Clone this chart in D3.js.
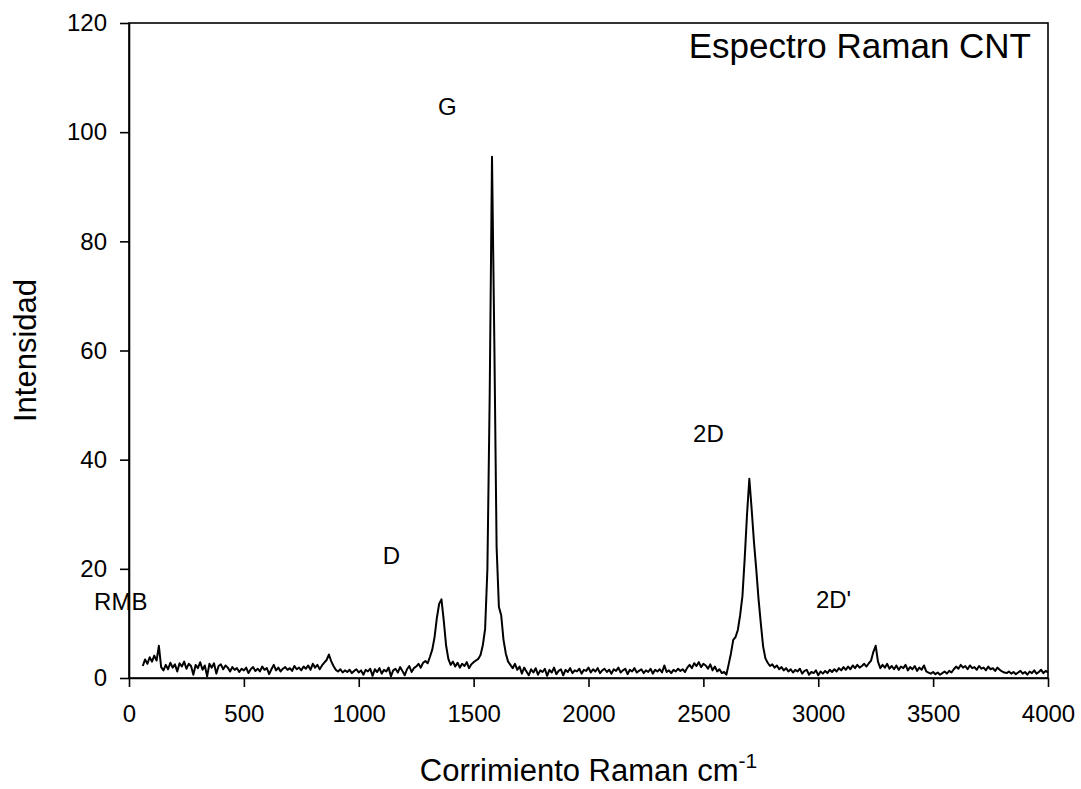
<!DOCTYPE html>
<html>
<head>
<meta charset="utf-8">
<script src="https://cdn.jsdelivr.net/npm/d3@7"></script>
<style>
  html, body { margin: 0; padding: 0; background: #fff; }
  svg { display: block; font-family: "Liberation Sans", Arial, Helvetica, sans-serif; }
</style>
</head>
<body>
<svg id="chart" width="1081" height="789"></svg>
<script>
// Raman spectrum of carbon nanotubes, sampled every 10 cm^-1 from 60 to 4000 cm^-1
const shiftStart = 60;
const shiftEnd = 4000;
const shiftStep = 10;
const intensity = [
  2.2, 3.4, 2.6, 3.8, 3.0, 4.1, 3.2, 5.9, 2.0, 1.4,        // 60
  2.4, 1.6, 2.8, 1.9, 2.5, 1.2, 2.7, 2.1, 3.0, 1.7,        // 160
  2.6, 2.2, 0.6, 2.4, 1.8, 2.9, 1.5, 2.3, 0.3, 2.6,        // 260
  1.9, 2.7, 0.8, 2.2, 2.5, 1.6, 2.3, 1.9, 1.2, 2.0,        // 360
  1.5, 1.8, 1.1, 1.7, 1.4, 1.9, 0.9, 1.6, 2.0, 1.3,        // 460
  1.7, 1.2, 2.1, 1.5, 1.8, 0.7, 1.6, 2.4, 1.4, 1.9,        // 560
  1.2, 1.7, 2.0, 1.5, 1.8, 1.3, 2.2, 1.6, 1.9, 1.4,        // 660
  2.1, 1.7, 2.3, 1.5, 2.6, 1.9, 2.4, 1.6, 2.3, 2.8,        // 760
  3.3, 4.3, 3.1, 2.2, 1.5, 1.2, 1.6, 1.0, 1.4, 1.1,        // 860
  1.5, 0.9, 1.3, 1.6, 1.0, 1.4, 0.6, 1.5, 1.2, 1.7,        // 960
  0.4, 1.6, 1.1, 1.8, 0.8, 1.5, 1.2, 1.9, 0.3, 1.4,        // 1060
  1.7, 1.0, 2.0, 1.3, 0.5, 1.6, 2.2, 1.1, 1.8, 2.1,        // 1160
  2.6, 1.9, 2.8, 3.1, 2.7, 3.9, 5.2, 7.5, 11.0, 13.6,      // 1260
  14.4, 10.5, 6.0, 3.5, 2.4, 3.0, 2.1, 2.8, 1.9, 2.6,      // 1360
  2.2, 2.9, 1.8, 2.5, 2.9, 3.2, 3.5, 4.2, 6.0, 9.0,        // 1460
  20.0, 52.0, 95.5, 62.0, 24.0, 13.0, 11.5, 7.0, 4.5, 3.0, // 1560
  2.4, 1.8, 2.6, 1.5, 2.1, 0.8, 1.9, 1.2, 0.5, 1.6,        // 1660
  1.0, 1.8, 0.6, 1.4, 1.1, 1.7, 0.4, 1.5, 1.0, 1.9,        // 1760
  0.7, 1.3, 1.6, 0.5, 1.5, 1.1, 1.8, 0.9, 1.4, 1.2,        // 1860
  1.7, 0.8, 1.5, 1.3, 1.9, 1.0, 1.6, 1.2, 1.8, 0.9,        // 1960
  1.4, 1.7, 1.1, 1.5, 0.8, 1.6, 1.3, 1.9, 1.0, 1.4,        // 2060
  1.7, 0.7, 1.5, 1.2, 1.8, 1.0, 1.3, 1.6, 0.9, 1.4,        // 2160
  1.1, 1.7, 0.8, 1.5, 1.2, 1.6, 1.0, 2.3, 1.1, 1.4,        // 2260
  0.9, 1.5, 1.2, 1.7, 1.3, 1.6, 1.1, 1.9, 2.4, 1.8,        // 2360
  2.7, 2.2, 2.9, 2.0, 2.6, 2.3, 1.7, 2.5, 1.4, 2.1,        // 2460
  1.2, 1.6, 0.9, 1.1, 0.6, 2.5, 4.5, 7.0, 7.5, 8.8,        // 2560
  11.5, 15.0, 22.0, 30.0, 36.5, 31.0, 25.0, 20.0, 14.5, 10.0, // 2660
  5.8, 3.6, 2.8, 2.2, 2.5, 1.9, 2.3, 1.6, 2.0, 1.4,        // 2760
  1.8, 1.2, 1.6, 1.0, 1.5, 1.2, 1.7, 0.8, 1.3, 1.5,        // 2860
  0.6, 1.1, 0.9, 1.4, 0.5, 1.2, 0.8, 1.3, 0.9, 1.5,        // 2960
  1.1, 1.6, 1.2, 1.8, 1.4, 2.0, 1.5, 2.1, 1.6, 2.3,        // 3060
  1.8, 2.4, 1.9, 2.2, 2.6, 2.1, 2.7, 3.2, 4.8, 5.9,        // 3160
  3.0, 1.8, 2.4, 1.9, 2.6, 1.7, 2.2, 1.6, 2.3, 1.5,        // 3260
  2.1, 1.8, 2.4, 1.4, 2.0, 1.6, 2.2, 1.3, 1.9, 1.5,        // 3360
  2.3, 1.2, 1.0, 0.8, 1.1, 0.7, 1.0, 0.6, 0.9, 1.2,        // 3460
  0.8, 1.3, 1.0, 1.6, 2.1, 1.7, 2.4, 1.9, 2.2, 1.6,        // 3560
  2.3, 1.8, 2.0, 1.5, 2.2, 1.7, 1.9, 1.4, 2.1, 1.6,        // 3660
  1.8, 1.3, 1.9, 1.5, 1.2, 1.0, 0.9, 1.2, 0.8, 1.1,        // 3760
  0.7, 1.0, 1.3, 0.8, 1.1, 0.6, 1.2, 0.9, 1.4, 0.8,        // 3860
  1.1, 1.5, 0.9, 1.3, 1.0                                  // 3960
];
const ramanShift = d3.range(shiftStart, shiftEnd + 1, shiftStep);

// Band labels (left edge in cm^-1, baseline in intensity units)
const bandNames = ["RMB", "D", "G", "2D", "2D'"];
const bandLabelX = [-152, 1105, 1345, 2455, 2990];
const bandLabelY = [12.4, 20.8, 103.2, 43.3, 12.9];

// Axis ticks
const xTicks = [0, 500, 1000, 1500, 2000, 2500, 3000, 3500, 4000];
const yTicks = [0, 20, 40, 60, 80, 100, 120];

const chartTitle = "Espectro Raman CNT";
const xTitle = "Corrimiento Raman cm";
const xTitleSup = "-1";
const yTitle = "Intensidad";

const svg = d3.select("#chart");
const W = 1081, H = 789;
const margin = { left: 129, top: 23, right: 1081 - 1048, bottom: 789 - 678 };
const plotW = W - margin.left - margin.right;
const plotH = H - margin.top - margin.bottom;

const x = d3.scaleLinear().domain([0, 4000]).range([0, plotW]);
const y = d3.scaleLinear().domain([0, 120]).range([plotH, 0]);

const g = svg.append("g").attr("transform", `translate(${margin.left},${margin.top})`);

// Spectrum trace
const points = ramanShift.map((s, i) => [s, intensity[i]]);
g.append("path")
  .datum(points)
  .attr("fill", "none")
  .attr("stroke", "#000")
  .attr("stroke-width", 2)
  .attr("stroke-linejoin", "round")
  .attr("d", d3.line().x(d => x(d[0])).y(d => y(d[1])));

// Frame
g.append("rect")
  .attr("x", 0).attr("y", 0)
  .attr("width", plotW).attr("height", plotH)
  .attr("fill", "none")
  .attr("stroke", "#000")
  .attr("stroke-width", 1.6);

// Axes
const xAxis = g.append("g")
  .attr("transform", `translate(0,${plotH})`)
  .call(d3.axisBottom(x).tickValues(xTicks).tickFormat(d3.format("d")).tickSize(9).tickPadding(18).tickSizeOuter(0));
const yAxis = g.append("g")
  .call(d3.axisLeft(y).tickValues(yTicks).tickFormat(d3.format("d")).tickSize(9).tickPadding(13).tickSizeOuter(0));

[xAxis, yAxis].forEach(a => {
  a.select(".domain").attr("stroke", "#000").attr("stroke-width", 1.6);
  a.selectAll(".tick line").attr("stroke", "#000").attr("stroke-width", 1.6);
  a.selectAll(".tick text")
    .attr("fill", "#000")
    .style("font-size", "24px")
    .style("font-family", "'Liberation Sans', Arial, sans-serif");
});

// Band labels
g.selectAll("text.band")
  .data(bandNames)
  .join("text")
  .attr("class", "band")
  .attr("x", (d, i) => x(bandLabelX[i]))
  .attr("y", (d, i) => y(bandLabelY[i]))
  .style("font-size", "24px")
  .attr("fill", "#000")
  .text(d => d);

// Title inside the frame, top right
g.append("text")
  .attr("x", plotW - 17)
  .attr("y", 35)
  .attr("text-anchor", "end")
  .style("font-size", "35px")
  .attr("fill", "#000")
  .text(chartTitle);

// X axis title with superscript
const xt = svg.append("text")
  .attr("x", margin.left + plotW / 2)
  .attr("y", 781)
  .attr("text-anchor", "middle")
  .style("font-size", "31px")
  .attr("fill", "#000");
xt.append("tspan").text(xTitle);
xt.append("tspan").attr("dy", -13).style("font-size", "21px").text(xTitleSup);

// Y axis title
svg.append("text")
  .attr("transform", `translate(36,${margin.top + plotH / 2}) rotate(-90)`)
  .attr("text-anchor", "middle")
  .style("font-size", "31px")
  .attr("fill", "#000")
  .text(yTitle);
</script>
</body>
</html>
